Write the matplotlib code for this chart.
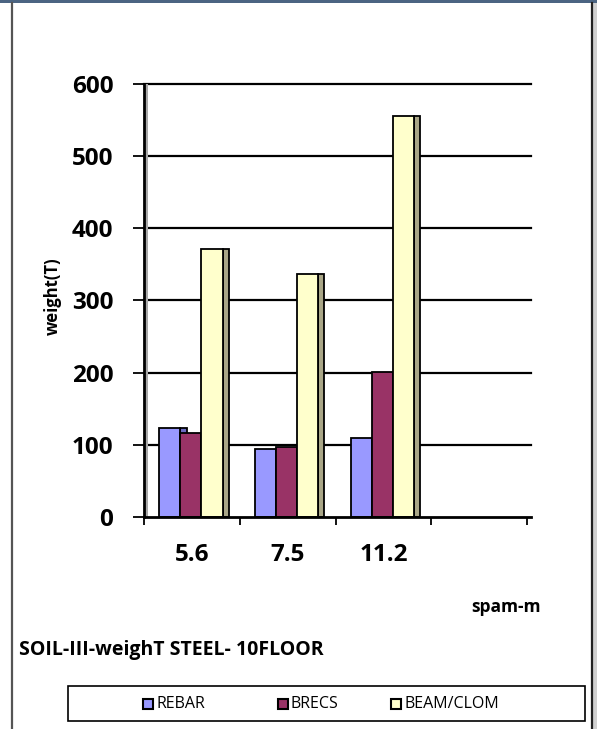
import matplotlib.pyplot as plt
from matplotlib.patches import Rectangle
from matplotlib.lines import Line2D

plt.rcParams['font.family'] = ['Open Sans', 'DejaVu Sans']

# span (m) categories, last slot left empty
categories = ['5.6', '7.5', '11.2', '']
series_names = ['REBAR', 'BRECS', 'BEAM/CLOM']
rebar = [124, 94, 110]
brecs = [116, 97, 201]
beam_clom = [371, 337, 555]
y_ticks = [0, 100, 200, 300, 400, 500, 600]

face_colors = ['#9999ff', '#993366', '#ffffcc']
side_colors = ['#6b6bc4', '#6e2449', '#a9a687']

W, H = 597, 729
fig = plt.figure(figsize=(W / 100, H / 100), dpi=100)

# outer frame of the chart area
fig.patches.append(Rectangle((0, 1 - 3 / H), 1, 3 / H, transform=fig.transFigure,
                             facecolor='#4b6482', edgecolor='none'))
fig.add_artist(Line2D([11.5 / W, 11.5 / W], [0, 1 - 3 / H], transform=fig.transFigure,
                      color='#555555', lw=1.6))
fig.add_artist(Line2D([591.5 / W, 591.5 / W], [0, 1 - 3 / H], transform=fig.transFigure,
                      color='#222222', lw=1.6))
fig.patches.append(Rectangle((593 / W, 0), 4 / W, 1 - 3 / H, transform=fig.transFigure,
                             facecolor='#d0d0d0', edgecolor='none'))

ax = fig.add_axes([144 / W, 1 - 517 / H, (531 - 144) / W, (517 - 84) / H])
ax.set_facecolor('none')

ncat = len(categories)
xmax = -0.5 + (531 - 144) / 95.75
ax.set_xlim(-0.5, xmax)
ax.set_ylim(0, 600)

# horizontal gridlines
for t in y_ticks[1:]:
    ax.plot([-0.5, xmax], [t, t], color='black', lw=1.6, zorder=1, clip_on=False)

# grey back wall next to the value axis
ax.add_patch(Rectangle((-0.5, 0), 0.045, 600, transform=ax.transData,
                       facecolor='#a8a8a8', edgecolor='none', zorder=1.5, clip_on=False))

bw = 0.22
depth = 0.065
data = [rebar, brecs, beam_clom]
for i, vals in enumerate(data):
    xs = [c + (i - 1) * bw - 0.01 for c in range(len(vals))]
    # side face, drawn first so the next bar covers it
    ax.bar([x + bw / 2 + depth / 2 for x in xs], vals, width=depth, color=side_colors[i],
           edgecolor='black', linewidth=1.3, zorder=2 + i)
    ax.bar(xs, vals, width=bw, color=face_colors[i], edgecolor='black',
           linewidth=1.3, zorder=2.5 + i)

for s in ['top', 'right']:
    ax.spines[s].set_visible(False)
ax.spines['left'].set_linewidth(2)
ax.spines['bottom'].set_linewidth(2)
ax.spines['left'].set_zorder(6)
ax.spines['bottom'].set_zorder(6)
ax.spines['bottom'].set_bounds(-0.5, xmax)

ax.set_yticks(y_ticks)
ax.set_yticklabels([str(t) for t in y_ticks], fontsize=17.5, fontweight='bold')
ax.tick_params(axis='y', length=8, width=1.3, pad=14)

ax.set_xticks(range(ncat))
ax.set_xticklabels(categories, fontsize=17.5, fontweight='bold')
ax.set_xticks([k - 0.5 for k in range(ncat + 1)], minor=True)
ax.tick_params(axis='x', which='major', length=0, pad=19)
ax.tick_params(axis='x', which='minor', length=6, width=1.3)

fig.text(53 / W, 1 - 296 / H, 'weight(T)', rotation=90, ha='center', va='center',
         fontsize=12, fontweight='bold')
fig.text(506 / W, 1 - 607 / H, 'spam-m', ha='center', va='center',
         fontsize=12.5, fontweight='bold')
fig.text(19 / W, 1 - 650 / H, 'SOIL-III-weighT STEEL- 10FLOOR', ha='left', va='center',
         fontsize=14, fontweight='bold')

# legend box along the bottom
fig.patches.append(Rectangle((68 / W, 1 - 721 / H), (585 - 68) / W, (721 - 686) / H,
                             transform=fig.transFigure, facecolor='white',
                             edgecolor='black', lw=1.2))
key_x = [143, 278, 391]
for kx, name, c in zip(key_x, series_names, face_colors):
    fig.patches.append(Rectangle((kx / W, 1 - 709 / H), 10 / W, 10 / H,
                                 transform=fig.transFigure, facecolor=c,
                                 edgecolor='black', lw=1.5, zorder=3))
    fig.text((kx + 13) / W, 1 - 704 / H, name, ha='left', va='center', fontsize=11.5)

fig.savefig('out.png', dpi=100)
